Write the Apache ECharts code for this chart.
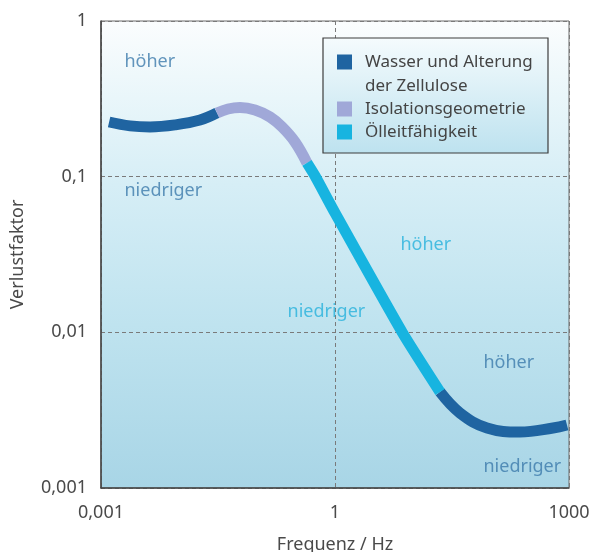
<!DOCTYPE html>
<html>
<head>
<meta charset="utf-8">
<script src="https://cdn.jsdelivr.net/npm/echarts@6/dist/echarts.min.js"></script>
<style>
html,body{margin:0;padding:0;background:#fff;}
#chart{width:593px;height:552px;}
</style>
</head>
<body>
<div id="chart"></div>
<script>
// ---- data ----
const seriesNames = ['Wasser und Alterung\nder Zellulose', 'Isolationsgeometrie', 'Ölleitfähigkeit'];

// Wasser und Alterung – low-frequency part
const waterLowX = [0.00127, 0.00236, 0.00425, 0.0089, 0.0186, 0.0307];
const waterLowY = [0.2245, 0.212, 0.2086, 0.215, 0.231, 0.2566];
// Wasser und Alterung – high-frequency part
const waterHighX = [22.2, 40.1, 88.9, 235, 624, 942];
const waterHighY = [0.00414, 0.00303, 0.00243, 0.00229, 0.00243, 0.00254];
// Isolationsgeometrie
const geoX = [0.0307, 0.0425, 0.0605, 0.0942, 0.147, 0.2094, 0.307, 0.4375];
const geoY = [0.2566, 0.272, 0.278, 0.268, 0.2417, 0.2086, 0.167, 0.1225];
// Ölleitfähigkeit
const oilX = [0.4375, 0.555, 1, 7.23, 22.2];
const oilY = [0.1225, 0.1009, 0.0585, 0.01006, 0.00414];

// tick labels
const xTickValues = [0.001, 1, 1000];
const xTickLabels = ['0,001', '1', '1000'];
const yTickValues = [0.001, 0.01, 0.1, 1];
const yTickLabels = ['0,001', '0,01', '0,1', '1'];

// annotations (text and anchor in data space)
const annotTexts = ['höher', 'niedriger', 'höher', 'niedriger', 'höher', 'niedriger'];
const annotX = [0.00197, 0.00197, 6.81, 0.2427, 78.9, 78.9];
const annotY = [0.545, 0.081, 0.0364, 0.01352, 0.00636, 0.001365];
const annotGroup = ['dark', 'dark', 'cyan', 'cyan', 'dark', 'dark'];

// ---- styles ----
const colors = { dark: '#1f64a1', lav: '#a0a8d8', cyan: '#17b4e0' };
const annotColors = { dark: '#3c7bab', cyan: '#27b2dc' };
const FONT = 'Noto Sans';

function zip(xs, ys) { return xs.map((x, i) => [x, ys[i]]); }
function tickLabel(values, labels) {
  return function (v) {
    for (let i = 0; i < values.length; i++) {
      if (Math.abs(Math.log10(v) - Math.log10(values[i])) < 1e-6) return labels[i];
    }
    return '';
  };
}

const waterData = zip(waterLowX, waterLowY).concat(['-'], zip(waterHighX, waterHighY));

const chart = echarts.init(document.getElementById('chart'), null, { renderer: 'canvas' });
chart.setOption({
  animation: false,
  backgroundColor: '#ffffff',
  textStyle: { fontFamily: FONT },
  grid: {
    left: 101, right: 24, top: 21, bottom: 64,
    outerBoundsMode: 'none',
    containLabel: false,
    show: true,
    borderColor: '#6b6b6b',
    borderWidth: 1,
    backgroundColor: new echarts.graphic.LinearGradient(0, 0, 0, 1, [
      { offset: 0, color: '#fbfdfe' },
      { offset: 0.12, color: '#eef8fb' },
      { offset: 0.35, color: '#d6eef6' },
      { offset: 0.65, color: '#bfe3ef' },
      { offset: 1, color: '#a8d5e6' }
    ])
  },
  xAxis: {
    type: 'log', logBase: 1000, min: 0.001, max: 1000,
    name: 'Frequenz / Hz', nameLocation: 'middle', nameGap: 48,
    nameTextStyle: { fontFamily: FONT, fontSize: 18, color: '#4a4a4a' },
    axisLine: { show: true, lineStyle: { color: '#444', width: 1.5 } },
    axisTick: { show: false },
    axisLabel: { margin: 16, fontFamily: FONT, fontSize: 18, color: '#4a4a4a', formatter: tickLabel(xTickValues, xTickLabels) },
    splitLine: { show: true, lineStyle: { color: '#7a7a7a', width: 1, type: [4, 3] } }
  },
  yAxis: {
    type: 'log', logBase: 10, min: 0.001, max: 1,
    name: 'Verlustfaktor', nameLocation: 'middle', nameGap: 74,
    nameTextStyle: { fontFamily: FONT, fontSize: 18, color: '#4a4a4a' },
    axisLine: { show: true, lineStyle: { color: '#444', width: 1.5 } },
    axisTick: { show: false },
    axisLabel: { margin: 14, fontFamily: FONT, fontSize: 18, color: '#4a4a4a', formatter: tickLabel(yTickValues, yTickLabels) },
    splitLine: { show: true, lineStyle: { color: '#7a7a7a', width: 1, type: [4, 3] } }
  },
  legend: {
    orient: 'vertical',
    left: 337, top: 26,
    padding: 0,
    itemGap: -1,
    itemWidth: 15, itemHeight: 15,
    icon: 'rect',
    itemStyle: { borderWidth: 0 },
    z: 10,
    formatter: function (name) { return name === seriesNames[0] ? ' \n' + name : name; },
    textStyle: { fontFamily: FONT, fontSize: 17, color: '#444', lineHeight: 24, padding: [0, 0, 0, 8] },
    data: seriesNames.slice()
  },
  graphic: [{
    type: 'rect', z: 5, zlevel: 0,
    shape: { x: 323, y: 38, width: 225, height: 115 },
    style: {
      fill: new echarts.graphic.LinearGradient(0, 0, 0, 1, [
        { offset: 0, color: '#f5fbfd' },
        { offset: 1, color: '#bde2ef' }
      ]),
      stroke: '#3d3d3d', lineWidth: 1.2
    }
  }],
  series: [
    {
      name: seriesNames[0], type: 'line', data: waterData, smooth: 0.4, connectNulls: false,
      showSymbol: false, symbol: 'none', color: colors.dark,
      lineStyle: { width: 11, color: colors.dark, cap: 'butt' }, z: 3
    },
    {
      name: seriesNames[1], type: 'line', data: zip(geoX, geoY), smooth: 0.4,
      showSymbol: false, symbol: 'none', color: colors.lav,
      lineStyle: { width: 11, color: colors.lav, cap: 'butt' }, z: 3
    },
    {
      name: seriesNames[2], type: 'line', data: zip(oilX, oilY), smooth: 0.2,
      showSymbol: false, symbol: 'none', color: colors.cyan,
      lineStyle: { width: 11, color: colors.cyan, cap: 'butt' }, z: 3
    },
    {
      name: 'annotations', type: 'scatter', symbolSize: 1,
      itemStyle: { color: 'rgba(0,0,0,0)' },
      silent: true, z: 4,
      data: annotTexts.map((t, i) => ({
        name: t, value: [annotX[i], annotY[i]],
        label: { color: annotColors[annotGroup[i]] }
      })),
      label: {
        show: true, position: 'right', distance: 0, formatter: '{b}',
        fontFamily: FONT, fontSize: 18
      }
    }
  ]
});
</script>
</body>
</html>
